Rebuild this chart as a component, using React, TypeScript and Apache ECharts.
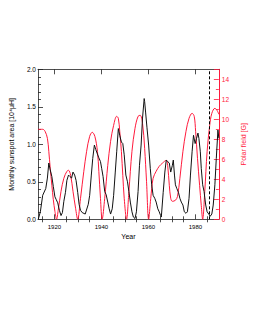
import React, { useEffect, useRef } from "react";
import * as echarts from "echarts";

const sunspotYears = [
  1913.1, 1914.0, 1915.0, 1916.3, 1917.0, 1917.6, 1918.2, 1918.9, 1919.5, 1920.2, 1920.8, 1921.4, 1922.1, 1922.8,
  1923.4, 1924.0, 1924.7, 1925.3, 1926.0, 1926.6, 1927.3, 1927.9, 1928.6, 1929.2, 1929.9, 1930.5, 1931.1, 1931.8,
  1933.1, 1934.4, 1935.0, 1935.7, 1936.3, 1937.0, 1937.6, 1938.3, 1938.9, 1939.6, 1940.1, 1940.7, 1941.4, 1942.0,
  1942.7, 1943.3, 1943.9, 1944.6, 1945.2, 1945.9, 1946.5, 1947.2, 1947.8, 1948.5, 1949.1, 1949.7, 1950.4, 1951.1,
  1951.7, 1952.3, 1953.0, 1953.6, 1954.3, 1954.9, 1955.6, 1956.2, 1956.9, 1957.5, 1958.2, 1958.4, 1958.8, 1959.4,
  1960.1, 1960.8, 1961.4, 1962.0, 1962.7, 1963.3, 1964.0, 1964.6, 1965.2, 1965.5, 1966.3, 1967.0, 1967.6, 1968.2,
  1968.9, 1969.5, 1970.2, 1970.6, 1971.1, 1971.5, 1972.1, 1972.8, 1973.4, 1974.0, 1974.7, 1975.3, 1976.0, 1976.6,
  1977.3, 1977.9, 1978.6, 1979.2, 1979.9, 1980.5, 1981.1, 1981.5, 1982.1, 1982.5, 1983.1, 1983.7, 1984.4, 1985.0,
  1985.7, 1986.3, 1987.0, 1987.6, 1988.3, 1988.9, 1989.6, 1990.0,
];
const sunspotArea = [
  0.0, 0.1, 0.32, 0.41, 0.55, 0.75, 0.66, 0.57, 0.44, 0.3, 0.26, 0.22, 0.12, 0.05,
  0.09, 0.24, 0.36, 0.52, 0.59, 0.57, 0.55, 0.63, 0.59, 0.52, 0.36, 0.2, 0.12, 0.09,
  0.07, 0.2, 0.32, 0.59, 0.81, 0.99, 0.93, 0.87, 0.82, 0.77, 0.68, 0.57, 0.37, 0.33,
  0.23, 0.14, 0.07, 0.14, 0.32, 0.63, 0.9, 1.21, 1.12, 1.03, 1.01, 0.86, 0.59, 0.5,
  0.37, 0.23, 0.1, 0.03, 0.01, 0.1, 0.37, 0.72, 0.99, 1.35, 1.61, 1.57, 1.43, 1.22,
  0.99, 0.68, 0.46, 0.32, 0.28, 0.23, 0.14, 0.1, 0.05, 0.03, 0.36, 0.63, 0.79, 0.77,
  0.75, 0.63, 0.72, 0.79, 0.59, 0.46, 0.41, 0.36, 0.28, 0.23, 0.19, 0.1, 0.08, 0.1,
  0.28, 0.59, 0.9, 1.12, 1.01, 1.08, 1.15, 1.08, 0.9, 0.68, 0.46, 0.37, 0.19, 0.1,
  0.07, 0.04, 0.07, 0.19, 0.46, 0.81, 1.19, 1.08,
];

const fieldYears = [
  1913.0, 1915.0, 1916.0, 1917.0, 1917.6, 1918.2, 1918.9, 1919.5, 1920.2, 1920.9, 1921.6, 1922.8, 1924.0, 1925.3,
  1926.0, 1926.9, 1927.9, 1929.0, 1929.9, 1931.1, 1932.5, 1933.7, 1935.0, 1936.1, 1937.2, 1938.3, 1938.9, 1939.6,
  1940.3, 1941.4, 1942.7, 1943.9, 1945.2, 1946.5, 1947.2, 1947.8, 1948.5, 1949.1, 1949.7, 1950.7, 1951.7, 1953.0,
  1954.3, 1955.6, 1956.5, 1957.5, 1958.4, 1959.2, 1960.1, 1961.0, 1962.0, 1963.3, 1964.6, 1965.9, 1967.6, 1968.2,
  1968.9, 1969.5, 1970.2, 1971.5, 1972.4, 1973.4, 1974.7, 1976.0, 1977.3, 1978.6, 1979.5, 1980.1, 1980.9, 1981.8,
  1982.5, 1983.1, 1984.0, 1985.0, 1986.1, 1987.0, 1988.3, 1989.2, 1990.0,
];
const polarField = [
  9.0, 9.0, 8.8, 8.1, 6.8, 5.1, 3.4, 2.0, 0.8, 0.0, 0.9, 2.8, 4.1, 4.8,
  4.9, 4.4, 2.8, 1.1, 0.0, 2.1, 4.8, 6.8, 8.3, 8.7, 8.3, 6.8, 4.8, 2.1,
  0.0, 2.1, 5.4, 7.8, 9.4, 10.3, 10.1, 8.8, 6.8, 4.4, 2.1, 0.0, 2.8, 6.8,
  9.1, 10.3, 10.4, 9.6, 7.1, 3.8, 0.0, 2.1, 4.1, 4.8, 5.3, 5.6, 5.9, 5.4,
  3.4, 2.1, 1.8, 1.9, 2.3, 4.1, 6.8, 8.8, 10.1, 10.6, 10.3, 8.8, 6.1, 3.4,
  1.4, 0.0, 2.8, 6.8, 9.4, 10.6, 11.1, 10.9, 10.5,
];

const xLabelYears = [1920, 1940, 1960, 1980];
const xMinorYears = [1915, 1925, 1930, 1935, 1945, 1950, 1955, 1965, 1970, 1975, 1985];
const minimumYear = 1986;

const RED = "#ff1a3c";
const FONT = "Liberation Sans";

export default function App() {
  const ref = useRef<HTMLDivElement>(null);
  useEffect(() => {
    if (!ref.current) return;
    const chart = echarts.init(ref.current, null, { renderer: "svg" });
    const baseX = {
      type: "value" as const,
      min: 1913,
      max: 1990,
      gridIndex: 0,
      splitLine: { show: false },
      axisLine: { show: true, onZero: false, lineStyle: { color: "#222", width: 0.8 } },
    };
    chart.setOption({
      animation: false,
      backgroundColor: "#fff",
      grid: { left: 27.5, right: 29, top: 69.3, bottom: 110.7, containLabel: false },
      xAxis: [
        {
          ...baseX,
          position: "bottom",
          name: "Year",
          nameLocation: "middle",
          nameGap: 14,
          nameTextStyle: { fontFamily: FONT, fontSize: 7, color: "#000" },
          axisTick: { show: true, inside: true, length: 5, customValues: xLabelYears, lineStyle: { color: "#222", width: 0.8 } },
          axisLabel: {
            customValues: xLabelYears,
            fontFamily: FONT,
            fontSize: 6,
            color: "#000",
            margin: 5,
            formatter: (v: number) => String(Math.round(v)),
          },
        },
        {
          ...baseX,
          position: "bottom",
          axisLine: { show: false },
          axisTick: { show: true, inside: true, length: 3, customValues: xMinorYears, lineStyle: { color: "#222", width: 0.8 } },
          axisLabel: { show: false },
        },
        {
          ...baseX,
          position: "top",
          axisTick: { show: true, inside: true, length: 5, customValues: xLabelYears, lineStyle: { color: "#222", width: 0.8 } },
          axisLabel: { show: false },
        },
        {
          ...baseX,
          position: "top",
          axisLine: { show: false },
          axisTick: { show: true, inside: true, length: 3, customValues: xMinorYears, lineStyle: { color: "#222", width: 0.8 } },
          axisLabel: { show: false },
        },
      ],
      yAxis: [
        {
          type: "value",
          position: "left",
          min: 0,
          max: 2,
          interval: 0.5,
          name: "Monthly sunspot area [10⁴μH]",
          nameLocation: "middle",
          nameGap: 23,
          nameTextStyle: { fontFamily: FONT, fontSize: 7, color: "#000" },
          splitLine: { show: false },
          axisLine: { show: true, lineStyle: { color: "#222", width: 0.8 } },
          axisTick: { show: true, inside: true, length: 5, lineStyle: { color: "#222", width: 0.8 } },
          minorTick: { show: true, splitNumber: 5, length: 3, lineStyle: { color: "#222", width: 0.8 } },
          axisLabel: { fontFamily: FONT, fontSize: 6.5, color: "#000", margin: 2, formatter: (v: number) => v.toFixed(1) },
        },
        {
          type: "value",
          position: "right",
          min: 0,
          max: 15,
          interval: 2,
          name: "Polar field [G]",
          nameLocation: "middle",
          nameGap: 15,
          nameTextStyle: { fontFamily: FONT, fontSize: 7, color: RED },
          splitLine: { show: false },
          axisLine: { show: true, lineStyle: { color: RED, width: 1 } },
          axisTick: { show: true, inside: true, length: 5, lineStyle: { color: RED, width: 0.8 } },
          minorTick: { show: true, splitNumber: 2, length: 3, lineStyle: { color: RED, width: 0.8 } },
          axisLabel: {
            fontFamily: FONT,
            fontSize: 6.5,
            color: RED,
            margin: 3,
            formatter: (v: number) => (v >= 15 ? "" : String(v)),
          },
        },
      ],
      series: [
        {
          type: "line",
          name: "Polar field",
          xAxisIndex: 0,
          yAxisIndex: 1,
          data: fieldYears.map((y, i) => [y, polarField[i]]),
          smooth: 0.35,
          showSymbol: false,
          lineStyle: { color: RED, width: 1 },
          clip: true,
        },
        {
          type: "line",
          name: "Sunspot area",
          xAxisIndex: 0,
          yAxisIndex: 0,
          data: sunspotYears.map((y, i) => [y, sunspotArea[i]]),
          showSymbol: false,
          lineStyle: { color: "#111", width: 1 },
          clip: true,
          markLine: {
            silent: true,
            symbol: "none",
            label: { show: false },
            lineStyle: { color: "#000", type: [3, 2], width: 1 },
            data: [{ xAxis: minimumYear }],
          },
        },
      ],
    });
    return () => chart.dispose();
  }, []);
  return <div ref={ref} style={{ position: "fixed", left: 0, top: 0, width: 255, height: 330 }} />;
}
